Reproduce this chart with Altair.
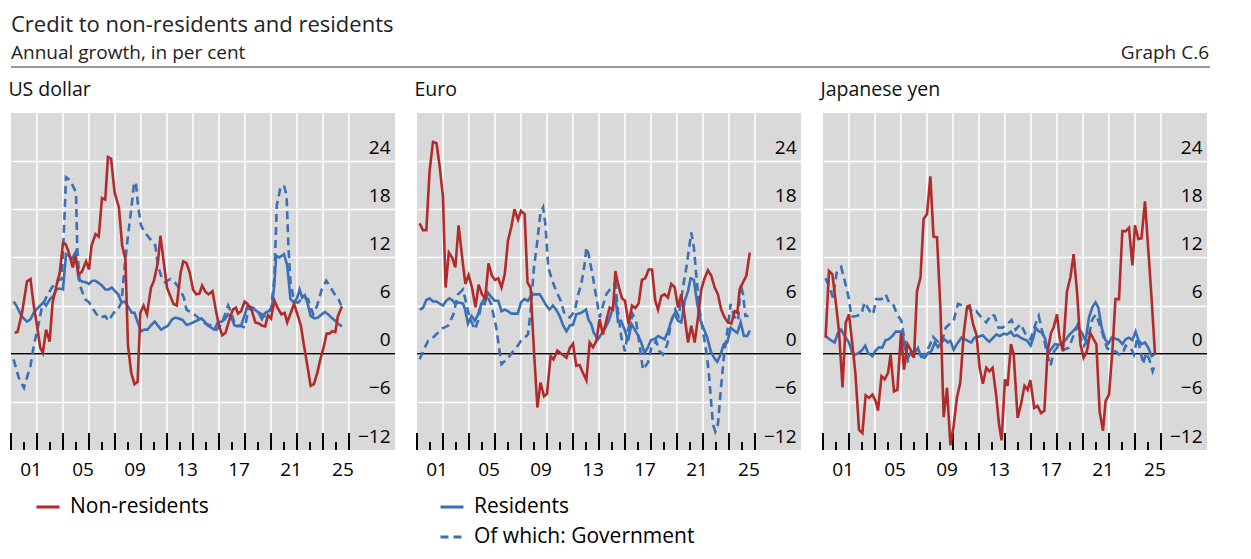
import altair as alt
import pandas as pd

# ---- text -------------------------------------------------------------
main_title = "Credit to non-residents and residents"
sub_title = "Annual growth, in per cent"
graph_label = "Graph C.6"
panel_titles = ["US dollar", "Euro", "Japanese yen"]

# ---- series values: (year, annual growth in %) ----
usd_nonres = [(2000.28,2.6),(2000.5,2.7),(2000.85,5.1),(2001.23,9.0),(2001.5,9.3),(2001.75,6.0),(2002.0,3.5),(2002.25,0.75),(2002.45,0.1),(2002.7,3.0),(2002.97,1.5),(2003.2,6.4),(2003.5,8.5),(2003.75,10.1),(2004.0,13.8),(2004.2,13.7),(2004.45,12.6),(2004.75,10.75),(2004.95,12.2),(2005.2,9.9),(2005.45,10.2),(2005.77,11.5),(2006.0,10.5),(2006.2,13.5),(2006.5,14.9),(2006.75,14.6),(2007.0,19.4),(2007.25,19.2),(2007.46,24.5),(2007.7,24.3),(2007.97,20.1),(2008.3,18.25),(2008.55,13.5),(2008.8,11.8),(2009.0,1.0),(2009.25,-2.4),(2009.5,-3.8),(2009.74,-3.5),(2009.95,5.1),(2010.2,6.0),(2010.46,4.9),(2010.77,8.25),(2011.0,9.1),(2011.3,11.4),(2011.5,14.7),(2011.75,11.4),(2012.0,8.25),(2012.25,7.2),(2012.5,6.2),(2012.75,6.0),(2013.05,10.1),(2013.25,11.5),(2013.5,11.3),(2013.75,10.1),(2014.0,8.0),(2014.25,7.4),(2014.5,7.5),(2014.7,8.5),(2014.97,7.7),(2015.2,7.4),(2015.5,7.8),(2015.75,5.5),(2016.0,3.5),(2016.25,2.3),(2016.5,2.6),(2016.77,4.1),(2017.07,5.5),(2017.3,5.75),(2017.46,5.0),(2017.7,5.3),(2017.97,6.5),(2018.2,6.2),(2018.5,5.5),(2018.8,3.9),(2019.05,3.8),(2019.3,3.5),(2019.55,3.4),(2019.77,4.8),(2020.0,4.4),(2020.27,6.6),(2020.5,5.75),(2020.8,4.9),(2021.05,5.1),(2021.25,3.9),(2021.5,5.0),(2021.77,6.2),(2022.0,5.1),(2022.3,3.5),(2022.5,1.4),(2022.8,-1.5),(2023.05,-4.0),(2023.3,-3.8),(2023.56,-2.4),(2023.8,-0.7),(2024.08,1.0),(2024.28,2.5),(2024.5,2.5),(2024.7,2.8),(2024.95,2.7),(2025.15,4.7),(2025.46,5.9)]
usd_res = [(2000.2,6.5),(2000.45,5.9),(2000.8,4.7),(2001.23,4.0),(2001.5,4.3),(2001.75,5.1),(2002.0,5.6),(2002.25,6.0),(2002.5,6.4),(2002.7,6.0),(2003.0,6.8),(2003.25,7.2),(2003.55,8.1),(2003.8,8.1),(2004.0,8.0),(2004.23,12.4),(2004.45,12.2),(2004.7,11.8),(2004.95,12.6),(2005.2,9.3),(2005.45,9.0),(2005.77,8.9),(2006.0,8.7),(2006.25,9.1),(2006.5,9.1),(2006.75,8.8),(2007.0,8.5),(2007.25,8.0),(2007.5,8.0),(2007.75,8.25),(2008.0,7.8),(2008.25,7.4),(2008.5,6.4),(2008.75,6.5),(2009.05,5.75),(2009.3,5.1),(2009.5,5.1),(2009.75,3.9),(2010.0,2.8),(2010.25,3.0),(2010.5,3.0),(2010.75,3.5),(2011.05,4.0),(2011.3,3.5),(2011.55,3.0),(2011.8,3.25),(2012.08,3.5),(2012.4,4.3),(2012.65,4.5),(2012.9,4.4),(2013.2,4.2),(2013.5,3.6),(2013.75,3.7),(2014.0,3.9),(2014.4,4.2),(2014.65,4.4),(2014.9,4.0),(2015.15,3.5),(2015.4,3.25),(2015.65,3.0),(2015.9,3.9),(2016.2,4.0),(2016.45,4.3),(2016.7,4.9),(2016.95,4.5),(2017.2,3.5),(2017.46,3.4),(2017.7,3.5),(2017.97,4.8),(2018.2,6.0),(2018.5,5.75),(2018.75,5.5),(2019.05,5.1),(2019.3,4.3),(2019.55,5.1),(2019.8,5.3),(2020.07,5.75),(2020.25,8.5),(2020.4,12.2),(2020.65,12.0),(2021.0,12.4),(2021.25,11.0),(2021.5,6.8),(2021.75,6.4),(2022.0,6.9),(2022.2,8.0),(2022.4,7.0),(2022.6,7.3),(2022.8,6.4),(2023.05,4.7),(2023.35,4.4),(2023.6,4.5),(2023.9,4.9),(2024.15,5.2),(2024.4,4.9),(2024.65,4.5),(2024.95,4.1),(2025.2,3.7),(2025.46,3.4)]
usd_gov = [(2000.2,-0.7),(2000.6,-3.0),(2001.0,-4.25),(2001.5,-1.5),(2001.75,1.0),(2002.1,3.5),(2002.4,6.0),(2002.8,7.3),(2003.15,8.25),(2003.55,9.1),(2003.9,9.3),(2004.1,16.4),(2004.23,22.0),(2004.56,21.6),(2005.0,20.1),(2005.1,13.0),(2005.3,8.5),(2005.7,6.8),(2006.0,6.4),(2006.5,5.1),(2006.8,4.5),(2007.25,4.7),(2007.5,4.1),(2007.9,5.1),(2008.15,5.3),(2008.5,6.4),(2008.75,11.0),(2009.0,14.7),(2009.25,18.0),(2009.45,21.0),(2009.6,21.4),(2009.77,18.5),(2010.0,16.0),(2010.3,15.1),(2010.7,14.3),(2011.1,13.5),(2011.3,11.0),(2011.55,9.7),(2011.85,8.9),(2012.25,9.3),(2012.6,8.9),(2013.0,8.0),(2013.3,7.0),(2013.5,5.5),(2013.9,5.1),(2014.25,4.7),(2014.65,4.1),(2015.0,3.7),(2015.4,3.5),(2015.8,3.0),(2016.2,3.7),(2016.7,6.0),(2016.95,5.1),(2017.25,3.5),(2017.6,3.5),(2018.0,3.25),(2018.25,5.5),(2018.6,5.75),(2019.1,5.1),(2019.55,4.7),(2020.0,5.5),(2020.25,9.3),(2020.45,18.5),(2020.7,20.5),(2021.0,21.0),(2021.2,19.7),(2021.35,13.0),(2021.5,8.9),(2021.8,6.4),(2022.1,6.4),(2022.45,7.0),(2022.85,6.8),(2023.25,4.9),(2023.55,6.0),(2023.9,8.0),(2024.25,9.1),(2024.5,8.5),(2024.9,7.4),(2025.2,6.8),(2025.4,6.0)]

eur_nonres = [(2000.2,16.25),(2000.46,15.4),(2000.72,15.4),(2000.97,22.8),(2001.23,26.4),(2001.5,26.25),(2001.75,23.25),(2002.0,19.5),(2002.2,8.25),(2002.45,12.6),(2002.7,12.0),(2002.95,10.75),(2003.2,16.0),(2003.46,12.2),(2003.72,8.7),(2003.97,9.8),(2004.23,8.25),(2004.5,5.8),(2004.74,8.6),(2005.0,7.4),(2005.25,6.9),(2005.5,11.25),(2005.77,9.7),(2006.0,9.2),(2006.25,9.4),(2006.5,8.25),(2006.75,9.9),(2007.0,14.1),(2007.25,15.75),(2007.5,18.0),(2007.77,16.7),(2008.0,17.8),(2008.28,17.4),(2008.5,8.9),(2008.74,8.2),(2009.0,0.3),(2009.26,-6.7),(2009.5,-3.6),(2009.77,-5.3),(2010.0,-5.0),(2010.28,-0.3),(2010.5,-0.7),(2010.8,0.4),(2011.1,0.0),(2011.5,-0.5),(2011.75,0.7),(2012.0,1.25),(2012.25,-1.5),(2012.5,-1.4),(2012.77,-2.4),(2013.03,-3.3),(2013.28,1.4),(2013.54,0.8),(2013.8,1.6),(2014.05,4.3),(2014.3,2.4),(2014.56,4.1),(2014.82,5.75),(2015.08,5.5),(2015.26,10.3),(2015.46,8.7),(2015.77,6.9),(2016.0,6.6),(2016.28,3.7),(2016.54,6.0),(2016.8,5.7),(2017.05,6.25),(2017.3,9.2),(2017.56,9.4),(2017.82,10.5),(2018.08,10.5),(2018.33,6.6),(2018.54,5.5),(2018.8,7.2),(2019.05,7.4),(2019.3,7.0),(2019.56,8.7),(2019.82,8.3),(2020.08,5.75),(2020.33,7.4),(2020.6,4.5),(2020.85,1.4),(2021.1,3.5),(2021.36,1.4),(2021.6,4.3),(2021.87,8.0),(2022.1,9.3),(2022.38,10.4),(2022.64,9.7),(2022.9,8.25),(2023.15,7.4),(2023.4,5.5),(2023.67,4.5),(2023.92,3.9),(2024.18,3.75),(2024.44,5.3),(2024.64,5.1),(2024.82,8.0),(2025.08,8.9),(2025.33,9.7),(2025.6,12.6)]
eur_res = [(2000.2,5.5),(2000.46,5.7),(2000.72,6.7),(2000.97,6.9),(2001.23,6.5),(2001.5,6.5),(2001.75,6.25),(2002.0,6.0),(2002.25,6.6),(2002.5,6.9),(2002.7,6.7),(2002.95,6.2),(2003.2,6.4),(2003.54,6.25),(2003.7,5.5),(2003.92,3.75),(2004.2,4.7),(2004.45,4.1),(2004.7,4.9),(2004.95,6.25),(2005.2,6.2),(2005.46,7.6),(2005.7,7.1),(2005.97,6.6),(2006.25,6.6),(2006.5,5.3),(2006.75,5.5),(2007.0,5.3),(2007.25,5.0),(2007.5,5.0),(2007.75,5.0),(2008.0,6.4),(2008.25,6.8),(2008.54,6.6),(2008.8,7.3),(2009.05,7.4),(2009.44,7.4),(2009.7,6.7),(2009.95,6.0),(2010.2,5.5),(2010.46,6.0),(2010.7,5.5),(2010.97,4.7),(2011.25,3.5),(2011.5,2.8),(2011.75,3.5),(2012.0,3.6),(2012.25,4.9),(2012.64,5.1),(2013.0,5.5),(2013.2,4.2),(2013.4,3.7),(2013.6,2.6),(2013.92,1.8),(2014.2,2.5),(2014.5,3.25),(2014.75,4.1),(2015.0,5.3),(2015.26,7.3),(2015.46,4.0),(2015.7,4.1),(2015.97,3.0),(2016.23,1.6),(2016.5,3.7),(2016.75,3.0),(2017.0,2.3),(2017.25,1.4),(2017.5,0.1),(2017.75,0.75),(2018.0,1.7),(2018.25,1.8),(2018.54,2.2),(2018.8,2.0),(2019.05,1.8),(2019.3,2.75),(2019.56,4.1),(2019.82,5.0),(2020.08,4.1),(2020.33,3.9),(2020.6,6.6),(2020.85,7.8),(2021.05,9.4),(2021.3,9.2),(2021.56,6.2),(2021.82,4.1),(2022.08,3.0),(2022.33,2.0),(2022.6,0.3),(2022.85,-0.5),(2023.1,-1.0),(2023.35,-0.1),(2023.6,1.2),(2023.87,1.4),(2024.13,3.25),(2024.38,2.9),(2024.64,2.6),(2024.9,3.9),(2025.15,2.2),(2025.4,2.2),(2025.6,2.9)]
eur_gov = [(2000.2,-0.7),(2000.46,0.3),(2000.85,1.6),(2001.1,1.8),(2001.6,2.6),(2002.0,3.2),(2002.4,3.5),(2002.8,4.9),(2003.15,7.4),(2003.54,8.0),(2003.8,6.2),(2004.05,4.5),(2004.45,3.0),(2004.7,4.1),(2004.95,6.2),(2005.33,7.4),(2005.7,6.2),(2006.1,3.25),(2006.35,0.3),(2006.5,-1.3),(2006.9,-0.7),(2007.25,0.0),(2007.64,0.75),(2008.0,1.6),(2008.54,2.4),(2008.74,5.3),(2009.0,10.75),(2009.26,14.1),(2009.5,17.6),(2009.7,18.25),(2009.87,16.2),(2010.1,10.75),(2010.4,9.1),(2010.72,7.8),(2011.05,6.6),(2011.36,4.9),(2011.75,4.5),(2012.13,5.3),(2012.4,7.4),(2012.64,8.7),(2012.9,11.2),(2013.03,13.25),(2013.2,12.4),(2013.54,9.5),(2013.8,7.0),(2014.05,4.5),(2014.3,6.0),(2014.56,7.4),(2014.95,8.25),(2015.26,8.75),(2015.46,5.3),(2015.72,2.0),(2016.0,0.3),(2016.23,3.0),(2016.6,4.9),(2016.85,4.1),(2017.13,1.0),(2017.38,-2.0),(2017.77,-1.1),(2018.03,0.75),(2018.4,1.6),(2018.65,0.3),(2018.92,-0.1),(2019.26,1.2),(2019.56,4.1),(2019.87,5.5),(2020.13,4.7),(2020.46,8.25),(2020.72,10.75),(2020.9,12.8),(2021.1,15.1),(2021.3,13.25),(2021.5,9.5),(2021.75,5.3),(2022.0,2.8),(2022.25,0.3),(2022.44,-2.2),(2022.6,-5.5),(2022.77,-8.8),(2022.95,-9.7),(2023.15,-8.8),(2023.36,-4.7),(2023.6,-0.5),(2023.87,2.8),(2024.13,6.2),(2024.38,4.7),(2024.7,4.1),(2024.9,8.7),(2025.08,7.4),(2025.26,4.7),(2025.5,4.7)]

jpy_nonres = [(2000.2,2.0),(2000.46,10.3),(2000.72,9.9),(2000.97,6.6),(2001.23,2.8),(2001.5,-4.2),(2001.75,3.9),(2002.0,4.9),(2002.26,1.2),(2002.5,-2.6),(2002.77,-9.5),(2003.03,-9.9),(2003.28,-5.2),(2003.54,-5.5),(2003.8,-5.1),(2004.05,-5.9),(2004.23,-7.1),(2004.5,-2.8),(2004.74,-3.2),(2005.0,-2.4),(2005.2,-0.1),(2005.46,-4.7),(2005.72,-4.5),(2006.0,2.6),(2006.23,-2.0),(2006.5,1.2),(2006.74,0.5),(2007.0,-0.5),(2007.23,7.8),(2007.5,9.5),(2007.74,16.8),(2008.0,17.4),(2008.26,22.1),(2008.5,14.6),(2008.77,14.5),(2009.03,5.75),(2009.28,-7.9),(2009.54,-4.25),(2009.8,-11.4),(2010.05,-9.0),(2010.3,-5.5),(2010.56,-3.6),(2010.82,2.4),(2011.08,5.8),(2011.28,6.0),(2011.54,3.7),(2011.8,2.4),(2012.05,-1.75),(2012.3,-3.75),(2012.56,-1.75),(2012.8,-2.2),(2013.05,-1.75),(2013.33,-5.3),(2013.54,-8.8),(2013.74,-10.8),(2014.0,-3.2),(2014.2,-4.0),(2014.46,1.2),(2014.67,-0.1),(2014.97,-8.0),(2015.23,-6.3),(2015.5,-4.0),(2015.74,-4.5),(2015.95,-3.3),(2016.25,-6.75),(2016.5,-6.5),(2016.77,-7.4),(2017.03,-7.1),(2017.28,0.3),(2017.54,2.6),(2017.74,3.25),(2018.0,4.9),(2018.2,2.0),(2018.46,0.3),(2018.77,7.8),(2019.03,9.5),(2019.28,12.4),(2019.54,7.8),(2019.8,1.2),(2020.05,-0.5),(2020.3,0.3),(2020.56,2.6),(2020.82,1.8),(2021.03,1.2),(2021.28,-7.2),(2021.54,-9.6),(2021.74,-5.9),(2022.0,-5.1),(2022.26,0.3),(2022.5,6.8),(2022.77,6.8),(2023.03,15.3),(2023.28,15.25),(2023.54,15.7),(2023.8,11.0),(2024.0,16.0),(2024.26,14.3),(2024.5,14.4),(2024.77,19.0),(2025.03,12.8),(2025.28,6.8),(2025.54,-0.1)]
jpy_res = [(2000.2,2.2),(2000.5,1.8),(2000.9,1.4),(2001.15,2.6),(2001.4,3.0),(2001.67,2.2),(2002.0,1.4),(2002.25,0.1),(2002.5,-0.1),(2002.75,0.1),(2003.03,0.5),(2003.25,1.0),(2003.46,0.1),(2003.8,-0.3),(2004.05,0.4),(2004.3,0.8),(2004.55,0.75),(2004.82,1.7),(2005.05,1.8),(2005.33,2.2),(2005.6,2.75),(2005.85,2.75),(2006.1,2.8),(2006.28,0.8),(2006.55,-0.5),(2006.8,0.3),(2007.05,0.1),(2007.3,0.7),(2007.56,-0.4),(2007.82,-0.5),(2008.08,0.1),(2008.33,0.3),(2008.6,1.4),(2008.85,0.8),(2009.1,1.4),(2009.36,1.8),(2009.6,1.4),(2009.8,1.6),(2010.05,0.5),(2010.3,1.2),(2010.65,2.0),(2010.9,1.8),(2011.15,1.6),(2011.4,1.4),(2011.65,2.0),(2011.92,2.1),(2012.3,2.3),(2012.56,1.8),(2012.8,1.5),(2013.1,2.0),(2013.33,2.4),(2013.6,2.2),(2013.92,2.5),(2014.18,2.4),(2014.44,2.75),(2014.7,2.2),(2014.95,2.3),(2015.2,2.0),(2015.46,1.8),(2015.72,1.6),(2015.97,1.0),(2016.18,2.0),(2016.36,3.25),(2016.6,2.8),(2016.87,2.6),(2017.08,1.9),(2017.33,0.1),(2017.6,0.7),(2017.85,1.2),(2018.15,1.1),(2018.4,1.25),(2018.7,1.8),(2018.97,2.4),(2019.23,2.8),(2019.5,3.3),(2019.75,3.0),(2019.95,2.5),(2020.2,1.6),(2020.46,4.5),(2020.72,5.8),(2020.97,6.4),(2021.18,5.75),(2021.44,3.25),(2021.7,1.8),(2021.95,1.25),(2022.2,2.0),(2022.46,1.9),(2022.77,1.7),(2023.03,1.2),(2023.28,1.8),(2023.54,2.0),(2023.8,1.7),(2024.05,2.75),(2024.26,1.7),(2024.5,1.2),(2024.77,1.4),(2025.03,0.7),(2025.28,-0.3),(2025.5,-0.1)]
jpy_gov = [(2000.2,9.4),(2000.5,8.25),(2000.77,7.0),(2001.05,10.1),(2001.4,10.8),(2001.67,9.1),(2002.0,6.8),(2002.18,4.6),(2002.56,4.7),(2002.95,4.9),(2003.2,6.4),(2003.6,5.3),(2003.85,4.9),(2004.1,6.8),(2004.5,6.8),(2004.82,7.4),(2005.13,6.2),(2005.44,6.0),(2005.7,4.9),(2006.03,4.1),(2006.28,1.6),(2006.54,-0.9),(2006.8,-0.5),(2007.05,0.5),(2007.44,-0.1),(2007.82,-0.1),(2008.2,1.0),(2008.46,2.1),(2008.77,1.6),(2009.1,1.2),(2009.44,3.25),(2009.74,3.7),(2010.05,4.1),(2010.38,6.2),(2010.77,6.0),(2011.05,6.0),(2011.54,5.1),(2011.8,5.3),(2012.18,4.5),(2012.56,3.9),(2012.95,4.9),(2013.2,4.7),(2013.5,3.25),(2013.8,3.25),(2014.18,3.7),(2014.5,4.2),(2014.82,3.0),(2015.2,3.7),(2015.6,2.4),(2015.97,1.8),(2016.36,3.75),(2016.6,4.7),(2016.97,2.0),(2017.26,-0.1),(2017.5,-1.5),(2017.77,0.3),(2018.15,1.0),(2018.54,0.5),(2018.92,0.75),(2019.3,2.4),(2019.56,3.5),(2019.82,2.0),(2020.08,1.0),(2020.4,1.8),(2020.72,4.3),(2021.0,4.9),(2021.26,3.7),(2021.6,2.0),(2021.85,0.7),(2022.23,0.3),(2022.5,0.3),(2022.77,-0.1),(2023.03,-0.1),(2023.28,1.0),(2023.67,0.75),(2023.92,-0.1),(2024.18,2.0),(2024.44,0.3),(2024.62,-1.3),(2024.85,0.1),(2025.1,-0.7),(2025.36,-2.2),(2025.5,-1.5)]

# ---- axes / legend -------------------------------------------------------
series_names = ["Non-residents", "Residents", " ", "Of which: Government"]
y_ticks = [-12, -6, 0, 6, 12, 18, 24]
label_years = [2001.5, 2005.5, 2009.5, 2013.5, 2017.5, 2021.5, 2025.5]
grid_years = list(range(2002, 2027, 2))
major_tick_years = list(range(2000, 2027, 2))
minor_tick_years = list(range(2001, 2026, 2))

RED = "#b22b2b"
BLUE = "#3b6fb6"
BG = "#d9d9d9"
FONT = "Open Sans"
W, H = 384, 337

x_scale = alt.Scale(domain=[2000, 2029.54], nice=False, zero=False)
y_scale = alt.Scale(domain=[-12, 30], nice=False, zero=False)

x_axis = alt.Axis(values=label_years, labelExpr="format(floor(datum.value) % 100, '02d')",
                  grid=False, ticks=False, domain=False, title=None,
                  labelFontSize=19, labelFont=FONT, labelColor="black", labelPadding=10)
y_axis = alt.Axis(values=y_ticks, orient="right", title=None, domain=False, ticks=False,
                  grid=True, gridColor="white", gridWidth=1.5,
                  gridOpacity={"condition": {"test": "datum.value == -12", "value": 0}, "value": 1},
                  labelAlign="right", labelBaseline="alphabetic", labelPadding=-5, labelOffset=-8,
                  labelFontSize=19, labelFont=FONT, labelColor="black")

legend = alt.Legend(title=None, orient="none", legendX=24, legendY=486, columns=2,
                    direction="horizontal", padding=0,
                    columnPadding=225, rowPadding=7, symbolType="stroke", symbolSize=529,
                    symbolStrokeWidth=3, labelFontSize=21, labelFont=FONT, labelColor="black",
                    labelOffset=9, labelLimit=400)

color = alt.Color("series:N", legend=legend,
                  scale=alt.Scale(domain=series_names, range=[RED, BLUE, "rgba(0,0,0,0)", BLUE]))
dash = alt.StrokeDash("series:N", legend=legend,
                      scale=alt.Scale(domain=series_names, range=[[1, 0], [1, 0], [1, 0], [8, 5]]))


def panel(title, nonres, res, gov):
    df = pd.concat([
        pd.DataFrame(nonres, columns=["year", "value"]).assign(series="Non-residents"),
        pd.DataFrame(res, columns=["year", "value"]).assign(series="Residents"),
        pd.DataFrame(gov, columns=["year", "value"]).assign(series="Of which: Government"),
    ])
    x = alt.X("year:Q", scale=x_scale, axis=x_axis)
    y = alt.Y("value:Q", scale=y_scale, axis=y_axis)

    vgrid = alt.Chart(pd.DataFrame({"year": grid_years})).mark_rule(
        color="white", strokeWidth=1.5).encode(x=x)
    major = alt.Chart(pd.DataFrame({"year": major_tick_years})).mark_rule(
        color="black", strokeWidth=2).encode(x=x, y=alt.value(H), y2=alt.value(H - 17))
    minor = alt.Chart(pd.DataFrame({"year": minor_tick_years})).mark_rule(
        color="black", strokeWidth=2).encode(x=x, y=alt.value(H), y2=alt.value(H - 8))
    zero = alt.Chart(pd.DataFrame({"value": [0]})).mark_rule(
        color="black", strokeWidth=1.5).encode(y=y)

    base = alt.Chart(df).mark_line(strokeWidth=2.6, strokeCap="butt").encode(
        x=x, y=y, color=color, strokeDash=dash)
    gov_line = base.transform_filter("datum.series == 'Of which: Government'")
    res_line = base.transform_filter("datum.series == 'Residents'")
    nonres_line = base.transform_filter("datum.series == 'Non-residents'")

    return alt.layer(vgrid, major, minor, zero, gov_line, res_line, nonres_line).properties(
        width=W, height=H,
        view=alt.ViewBackground(fill=BG, strokeWidth=0),
        title=alt.Title(title, anchor="start", fontSize=19.5, font=FONT, fontWeight="normal",
                        color="#111", baseline="alphabetic", offset=-3),
    )


panels = alt.hconcat(
    panel(panel_titles[0], usd_nonres, usd_res, usd_gov),
    panel(panel_titles[1], eur_nonres, eur_res, eur_gov),
    panel(panel_titles[2], jpy_nonres, jpy_res, jpy_gov),
    spacing=18,
).resolve_scale(color="shared", strokeDash="shared")

# header: title, subtitle, graph number and separator rule
TOTAL_W = 3 * W + 2 * 18
head_title = alt.Chart(pd.DataFrame({"t": [main_title]})).mark_text(
    align="left", baseline="alphabetic", fontSize=22, font=FONT, color="#222").encode(
    text="t:N", x=alt.value(0), y=alt.value(24))
head_sub = alt.Chart(pd.DataFrame({"t": [sub_title]})).mark_text(
    align="left", baseline="alphabetic", fontSize=19, font=FONT, color="#222").encode(
    text="t:N", x=alt.value(0), y=alt.value(51))
head_graph = alt.Chart(pd.DataFrame({"t": [graph_label]})).mark_text(
    align="right", baseline="alphabetic", fontSize=19, font=FONT, color="#222").encode(
    text="t:N", x=alt.value(TOTAL_W + 10), y=alt.value(51))
head_rule = alt.Chart(pd.DataFrame({"t": [graph_label]})).mark_rule(
    color="#999999", strokeWidth=2).encode(
    x=alt.value(0), x2=alt.value(TOTAL_W + 11), y=alt.value(59))
header = alt.layer(head_title, head_sub, head_graph, head_rule).properties(
    width=TOTAL_W, height=60, view=alt.ViewBackground(strokeWidth=0))

chart = alt.vconcat(header, panels, spacing=11).properties(
    padding={"left": 0, "top": 0, "right": 0, "bottom": 12}
).configure_view(strokeWidth=0)

chart.save("out.html", embed_options={"renderer": "svg", "actions": False})
